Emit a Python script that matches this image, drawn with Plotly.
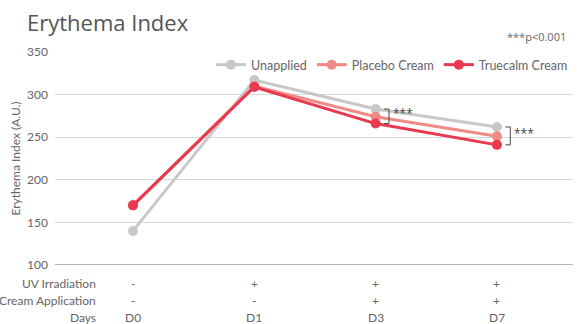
import plotly.graph_objects as go

days = ["D0", "D1", "D3", "D7"]
uv = ["-", "+", "+", "+"]
cream = ["-", "-", "+", "+"]
unapplied = [140, 317, 283, 262]
placebo = [170, 310, 274, 251]
truecalm = [170, 309, 266, 241]
sig_days = ["D3", "D7"]

colors = {"Unapplied": "#c8c8c8", "Placebo Cream": "#f08a84", "Truecalm Cream": "#e8394f"}
series = {"Unapplied": unapplied, "Placebo Cream": placebo, "Truecalm Cream": truecalm}

fig = go.Figure()
for name, vals in series.items():
    fig.add_trace(go.Scatter(
        x=list(range(len(days))), y=vals, name=name, mode="lines+markers",
        line=dict(color=colors[name], width=3),
        marker=dict(color=colors[name], size=10),
    ))

txt = "#666666"
font = "Lato"

# bottom row labels
rows = [("UV Irradiation", uv, 283), ("Cream Application", cream, 300), ("Days", days, 317)]
for label, vals, ypx in rows:
    yp = (265 - ypx) / 213.0
    fig.add_annotation(text=label, xref="paper", yref="paper", x=(98 - 55) / 518.0, y=yp,
                       xanchor="right", yanchor="middle", showarrow=False,
                       font=dict(size=12, color=txt, family=font))
    for i, v in enumerate(vals):
        fig.add_annotation(text=v, xref="x", yref="paper", x=i, y=yp,
                           xanchor="center", yanchor="middle", showarrow=False,
                           font=dict(size=12, color=txt, family=font))

# significance brackets
for d in sig_days:
    i = days.index(d)
    top = max(unapplied[i], placebo[i], truecalm[i])
    bot = min(unapplied[i], placebo[i], truecalm[i])
    xb = i + 0.11
    xt = xb - 0.04
    for (x0, y0, x1, y1) in [(xb, top, xb, bot), (xt, top, xb, top), (xt, bot, xb, bot)]:
        fig.add_shape(type="line", xref="x", yref="y", x0=x0, y0=y0, x1=x1, y1=y1,
                      line=dict(color="#444444", width=1))
    fig.add_annotation(text="***", xref="x", yref="y", x=xb + 0.015, y=(top + bot) / 2 + 3,
                       xanchor="left", yanchor="middle", showarrow=False,
                       font=dict(size=12, color="#444444", family="Open Sans"))

fig.add_annotation(text="***p<0.001", xref="paper", yref="paper", x=(568 - 55) / 518.0,
                   y=(265 - 36) / 213.0, xanchor="right", yanchor="middle", showarrow=False,
                   font=dict(size=11, color=txt, family="Open Sans"))

fig.update_layout(
    width=584, height=324,
    margin=dict(l=55, r=11, t=52, b=59),
    paper_bgcolor="white", plot_bgcolor="white",
    title=dict(text="Erythema Index", x=27 / 584, xref="container", xanchor="left",
               y=1 - 23 / 324, yref="container", yanchor="middle", automargin=False,
               font=dict(size=22, color="#555555", family="Open Sans")),
    legend=dict(orientation="h", x=1, xanchor="right", y=(265 - 65) / 213.0, yanchor="middle",
                bgcolor="rgba(0,0,0,0)", font=dict(size=12.5, color=txt, family=font),
                itemwidth=30, traceorder="normal"),
    xaxis=dict(range=[-0.643, 3.627], showgrid=False, showticklabels=False, zeroline=False,
               showline=False, ticks="", automargin=False),
    yaxis=dict(range=[100, 350], dtick=50, showgrid=True, gridcolor="#d9d9d9", gridwidth=1,
               zeroline=False, showline=False, ticks="", automargin=False, ticklabelstandoff=6,
               tickfont=dict(size=12, color=txt, family=font),
               title=dict(text="Erythema Index (A.U.)", font=dict(size=12, color=txt, family=font),
                          standoff=3)),
    showlegend=True,
)
fig.add_shape(type="line", xref="paper", yref="y", x0=0, x1=1, y0=100, y1=100,
              line=dict(color="#999999", width=1.5), layer="below")

fig.write_html("out.html", config={"displayModeBar": False},
               post_script="document.body.style.margin='0';")
